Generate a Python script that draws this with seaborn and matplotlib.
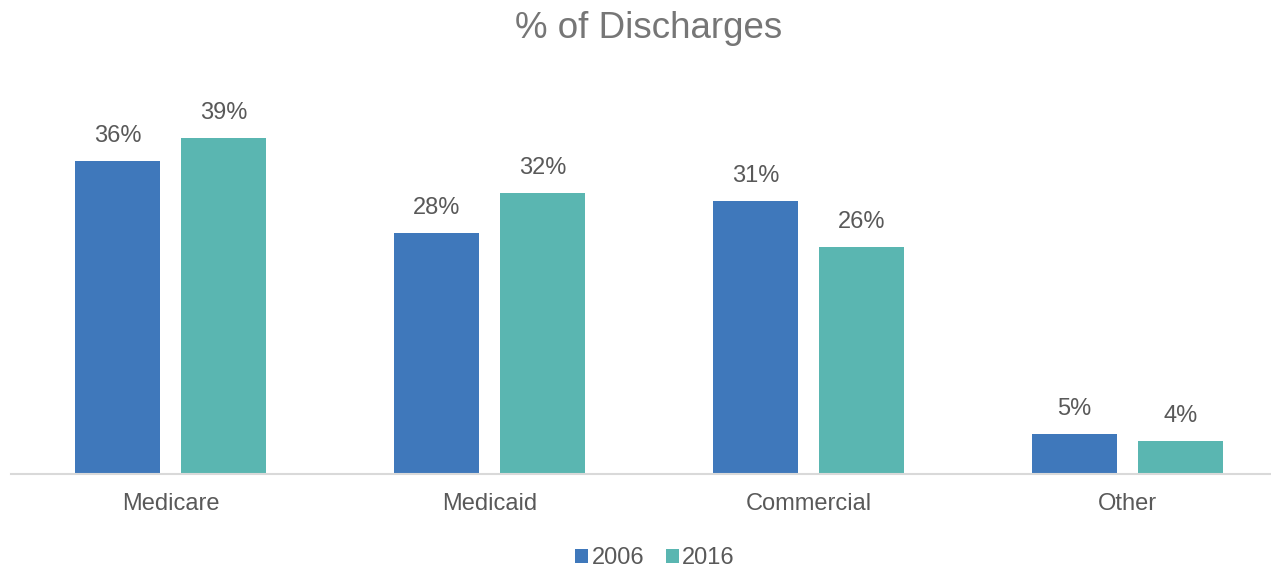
import matplotlib
matplotlib.use("Agg")
import matplotlib.pyplot as plt
import seaborn as sns
import pandas as pd
from matplotlib.patches import Patch

categories = ["Medicare", "Medicaid", "Commercial", "Other"]
years = ["2006", "2016"]
values_2006 = [36.0, 27.7, 31.4, 4.6]
values_2016 = [38.6, 32.3, 26.1, 3.8]

df = pd.DataFrame({
    "category": categories * 2,
    "year": [years[0]] * 4 + [years[1]] * 4,
    "value": values_2006 + values_2016,
})

sns.set_theme(style="white")
plt.rcParams["font.family"] = ["Liberation Sans", "DejaVu Sans"]

gray = "#595959"
title_gray = "#767676"
colors = {"2006": "#3F78BB", "2016": "#5AB6B1"}

fig = plt.figure(figsize=(12.71, 5.71), dpi=100)
ax = fig.add_axes([11 / 1271, (571 - 474) / 571, 1260 / 1271, 391.5 / 571])

sns.barplot(data=df, x="category", y="value", hue="year", order=categories,
            hue_order=years, palette=colors, width=0.665, gap=0.2,
            saturation=1, linewidth=0, ax=ax, legend=False)

ax.set_xlim(-0.5, -0.5 + 1260 / 319)
ax.set_ylim(0, 45)
ax.set_xlabel("")
ax.set_ylabel("")
ax.set_yticks([])
for s in ["top", "right", "left"]:
    ax.spines[s].set_visible(False)
ax.spines["bottom"].set_color("#D9D9D9")
ax.spines["bottom"].set_linewidth(1.5)
ax.tick_params(axis="x", length=0, pad=14, labelsize=17, labelcolor=gray)

for cont in ax.containers:
    labels = [f"{b.get_height():.0f}%" for b in cont]
    ax.bar_label(cont, labels=labels, padding=10, fontsize=17, color=gray)

fig.suptitle("% of Discharges", x=649 / 1271, y=1 - 11 / 571, va="top",
             fontsize=26.5, color=title_gray)

handles = [Patch(facecolor=colors[y], edgecolor="none", label=y) for y in years]
fig.legend(handles=handles, loc="center", bbox_to_anchor=(655 / 1271, 1 - 558 / 571),
           ncol=2, frameon=False, fontsize=17, labelcolor=gray,
           handlelength=0.55, handleheight=0.55, handletextpad=0.15,
           columnspacing=0.9, borderpad=0)

fig.savefig("out.png", dpi=100)
